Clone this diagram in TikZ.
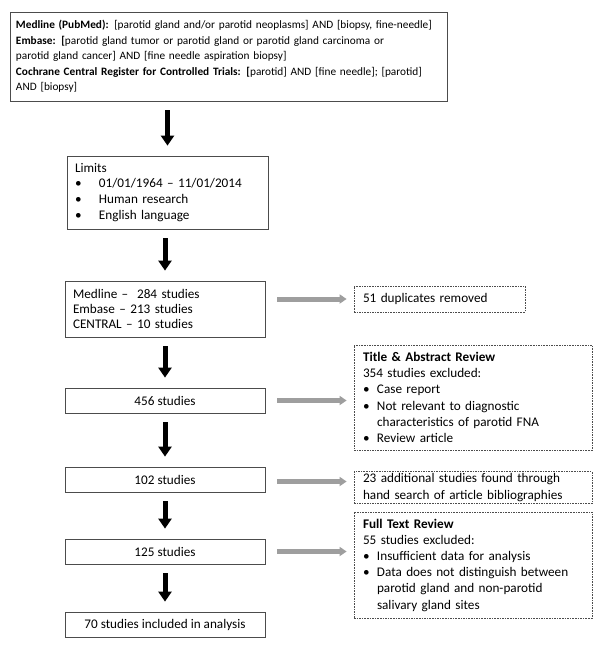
\documentclass[tikz,border=0pt]{standalone}
\usepackage{fontspec}
\setmainfont{Carlito}
\usetikzlibrary{arrows.meta}

\newcommand{\bul}[1][14pt]{\makebox[#1][l]{\textbullet}}

\begin{document}
\begin{tikzpicture}[x=1pt,y=-1pt,
		box/.style={draw=black!70,line width=0.8pt,inner xsep=8pt,inner ysep=2pt,align=left,font=\fontsize{13.2}{15.9}\selectfont},
		dbox/.style={box,dash pattern=on 1.6pt off 1pt,inner xsep=9pt,font=\fontsize{13.2}{16.2}\selectfont},
		down/.style={line width=5pt,-{Triangle[width=13pt,length=10pt]},shorten <=9pt,shorten >=10pt},
		side/.style={line width=5pt,draw=black!38,-{Triangle[width=9pt,length=7pt]},shorten <=12pt,shorten >=7pt}]
		\useasboundingbox (0,0) rectangle (602,649);
		\fill[white] (0,0) rectangle (602,649);
		% left column
		\node[box,inner xsep=6pt,text width=425pt,minimum height=89pt,font=\fontsize{11.3}{15.6}\selectfont] (search) at (228.5,56.5)
			{\textbf{Medline (PubMed):} [parotid gland and/or parotid neoplasms] AND [biopsy, fine-needle]\\
			\textbf{Embase: [}parotid gland tumor or parotid gland or parotid gland carcinoma or\\
			parotid gland cancer] AND [fine needle aspiration biopsy]\\
			\textbf{Cochrane Central Register for Controlled Trials: [}parotid] AND [fine needle]; [parotid]\\
			AND [biopsy]};
		\node[box,text width=185pt,minimum height=73pt] (limits) at (167.5,192.5)
			{Limits\\
			\bul[24pt]01/01/1964 -- 11/01/2014\\
			\bul[24pt]Human research\\
			\bul[24pt]English language};
		\node[box,text width=184pt,minimum height=56pt,font=\fontsize{13.2}{15}\selectfont] (found) at (165,309)
			{Medline --\ \ 284 studies\\
			Embase -- 213 studies\\
			CENTRAL -- 10 studies};
		\node[box,align=center,minimum width=200pt,minimum height=25pt] (n456) at (165,400.5) {456 studies};
		\node[box,align=center,minimum width=200pt,minimum height=25pt] (n102) at (165,479.5) {102 studies};
		\node[box,align=center,minimum width=200pt,minimum height=25pt] (n125) at (165,551.5) {125 studies};
		\node[box,align=center,minimum width=200pt,minimum height=25pt] (n70) at (165,624.5) {70 studies included in analysis};
		% right column
		\node[dbox,text width=153pt,minimum height=26pt] (dup) at (439.5,299) {51 duplicates removed};
		\node[dbox,text width=220pt,minimum height=105pt] (title) at (473,397.5)
			{\textbf{Title \& Abstract Review}\\
			354 studies excluded:\\
			\bul Case report\\
			\bul Not relevant to diagnostic\\
			\hspace*{14pt}characteristics of parotid FNA\\
			\bul Review article};
		\node[dbox,text width=220pt,minimum height=29pt] (hand) at (473,487.5)
			{23 additional studies found through\\
			hand search of article bibliographies};
		\node[dbox,text width=220pt,minimum height=106pt] (full) at (473,565)
			{\textbf{Full Text Review}\\
			55 studies excluded:\\
			\bul Insufficient data for analysis\\
			\bul Data does not distinguish between\\
			\hspace*{14pt}parotid gland and non-parotid\\
			\hspace*{14pt}salivary gland sites};
		% arrows
		\draw[down] (limits.north |- search.south) -- (limits.north);
		\draw[down] (limits.south -| found.south) -- (found.north);
		\draw[down] (found) -- (n456);
		\draw[down] (n456) -- (n102);
		\draw[down] (n102) -- (n125);
		\draw[down] (n125) -- (n70);
		\draw[side] (found.east |- dup.west) -- (dup.west);
		\draw[side] (n456.east) -- (n456.east -| title.west);
		\draw[side] ([yshift=-2pt]n102.east) -- ([yshift=-2pt]n102.east -| hand.west);
		\draw[side] (n125.east) -- (n125.east -| full.west);
	\end{tikzpicture}
\end{document}
